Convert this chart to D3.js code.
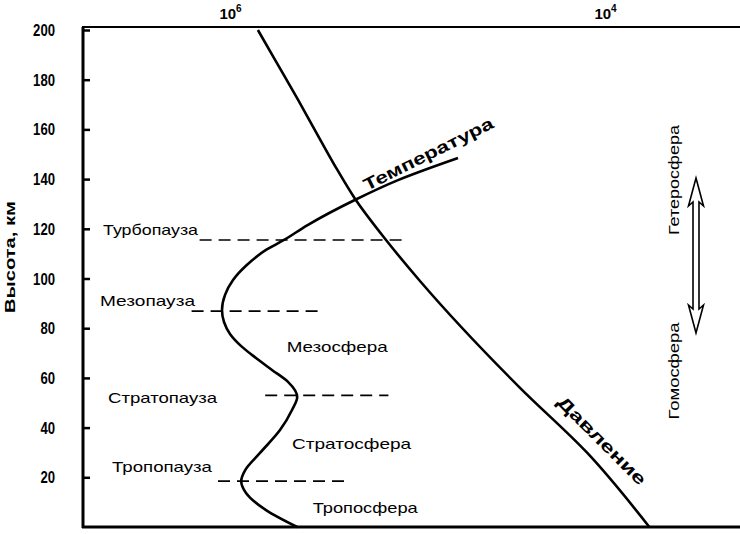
<!DOCTYPE html>
<html><head><meta charset="utf-8">
<script src="https://cdn.jsdelivr.net/npm/d3@7"></script>
<style>body{margin:0;background:#fff}svg{display:block}text{font-family:Arial,"Liberation Sans",sans-serif;fill:#000}</style>
</head><body><svg id="c" width="740" height="534"></svg>
<script>
// ---- data ----
const altTicks = [20,40,60,80,100,120,140,160,180,200];
const topTicks = [1e6, 1e4];
const topTickBase = ["10", "10"];
const topTickExp = ["6", "4"];
// temperature profile (altitude km, temperature K)
const tempAlt = [0,6.8,13.7,18.5,22.9,29.8,39,47.1,52.3,58.4,63.2,68,72.8,77.7,82.5,87.3,93.4,99.4,105.4,111.5,115.5,121.5,131.6,139.6,148.5];
const tempK   = [284,245,220,214,219,237.5,262.5,277.5,284,272.5,252.5,232.5,214,200,192.5,190,193.8,203.8,221,245,267.5,297,356,410,485];
// pressure profile (altitude km, pressure on top log axis)
const presAlt = [0,30,56,99,116,132,144,156,172,188,200];
const presVal = [5.8e3,1.25e4,2.84e4,9.7e4,1.49e5,2.15e5,2.69e5,3.31e5,4.34e5,5.75e5,7.1e5];
// pause levels (name, altitude, temperature extent of dashed line)
const pauseNames = ["Турбопауза","Мезопауза","Стратопауза","Тропопауза"];
const pauseAlt   = [115.5, 86.9, 53, 18.5];
const pauseFrom  = [162, 152, 244, 185];
const pauseTo    = [419, 310, 398, 343];
const layerNames = ["Мезосфера","Стратосфера","Тропосфера"];
const layerAlt   = [72.4, 33.4, 7.6];
const layerTemp  = [334, 352, 369];

// ---- drawing ----
const svg = d3.select("#c");
const y = d3.scaleLinear().domain([0,200]).range([527,30]);
const xT = d3.scaleLinear().domain([190,290]).range([222,302]);
const xP = d3.scaleLog().domain([1e6,1e4]).range([230,605]);

// frame
svg.append("line").attr("x1",83).attr("x2",83).attr("y1",27).attr("y2",528).attr("stroke","#000").attr("stroke-width",3);
svg.append("line").attr("x1",82).attr("x2",740).attr("y1",527).attr("y2",527).attr("stroke","#000").attr("stroke-width",3);
svg.append("line").attr("x1",82).attr("x2",740).attr("y1",27).attr("y2",27).attr("stroke","#000").attr("stroke-width",2);

// left axis
const yAxis = d3.axisRight(y).tickValues(altTicks).tickSize(7).tickFormat("");
const gy = svg.append("g").attr("transform","translate(83,0)").call(yAxis);
gy.select(".domain").remove();
gy.selectAll("line").attr("stroke","#000").attr("stroke-width",2.5);
svg.selectAll(".ylab").data(altTicks).join("text").attr("class","ylab")
  .attr("x",55).attr("y",d=>y(d)+6).attr("text-anchor","end")
  .attr("font-size",16).attr("font-weight","bold")
  .attr("textLength",d=>String(d).length*7.3).attr("lengthAdjust","spacingAndGlyphs").text(d=>d);
svg.append("text").attr("transform","translate(15,257) rotate(-90)")
  .attr("text-anchor","middle").attr("font-size",14).attr("font-weight","bold")
  .attr("textLength",112).attr("lengthAdjust","spacingAndGlyphs").text("Высота, км");

// top axis
const xAxis = d3.axisTop(xP).tickValues(topTicks).tickSize(0).tickFormat("");
const gx = svg.append("g").attr("transform","translate(0,27)").call(xAxis);
gx.select(".domain").remove();
gx.selectAll(".tick").each(function(d,i){
  const t = d3.select(this).append("text").attr("y",-8).attr("text-anchor","middle")
    .attr("font-size",15).attr("font-weight","bold").attr("fill","#000")
    .style("font-family","Arial, 'Liberation Sans', sans-serif");
  t.append("tspan").text(topTickBase[i]);
  t.append("tspan").attr("font-size",10).attr("dy",-7).text(topTickExp[i]);
});

// pause dashed lines
pauseNames.forEach((n,i)=>{
  svg.append("line").attr("x1",xT(pauseFrom[i])).attr("x2",xT(pauseTo[i]))
    .attr("y1",y(pauseAlt[i])).attr("y2",y(pauseAlt[i]))
    .attr("stroke","#000").attr("stroke-width",1.7).attr("stroke-dasharray","12,7");
});
const pauseLabelX = [103,100,108,112];
const pauseLabelDy = [-5,-5,8,-9];
const pauseLabelW = [95,95,109,100];
pauseNames.forEach((n,i)=>{
  svg.append("text").attr("x",pauseLabelX[i]).attr("y",y(pauseAlt[i])+pauseLabelDy[i])
    .attr("font-size",15).attr("textLength",pauseLabelW[i]).attr("lengthAdjust","spacingAndGlyphs").text(n);
});
const layerW = [101,119,105];
layerNames.forEach((n,i)=>{
  svg.append("text").attr("x",xT(layerTemp[i])).attr("y",y(layerAlt[i])+5)
    .attr("text-anchor","middle").attr("font-size",15)
    .attr("textLength",layerW[i]).attr("lengthAdjust","spacingAndGlyphs").text(n);
});

// curves
const tempPts = tempAlt.map((a,i)=>[xT(tempK[i]), y(a)]).sort((a,b)=>a[1]-b[1]);
const presPts = presAlt.map((a,i)=>[xP(presVal[i]), y(a)]).sort((a,b)=>a[1]-b[1]);
const line = d3.line().curve(d3.curveMonotoneY);
svg.append("path").attr("d",line(tempPts)).attr("fill","none").attr("stroke","#000").attr("stroke-width",2.6);
svg.append("path").attr("d",line(presPts)).attr("fill","none").attr("stroke","#000").attr("stroke-width",2.6);

// curve labels
svg.append("text").attr("transform","translate(367,191) rotate(-26.5)")
  .attr("font-size",17).attr("font-weight","bold")
  .attr("textLength",143).attr("lengthAdjust","spacingAndGlyphs").text("Температура");
svg.append("text").attr("transform","translate(556,403) rotate(45)")
  .attr("font-size",17).attr("font-weight","bold")
  .attr("textLength",118).attr("lengthAdjust","spacingAndGlyphs").text("Давление");

// sphere labels
svg.append("text").attr("transform","translate(679,180) rotate(-90)")
  .attr("text-anchor","middle").attr("font-size",15)
  .attr("textLength",110).attr("lengthAdjust","spacingAndGlyphs").text("Гетеросфера");
svg.append("text").attr("transform","translate(679,371) rotate(-90)")
  .attr("text-anchor","middle").attr("font-size",15)
  .attr("textLength",97).attr("lengthAdjust","spacingAndGlyphs").text("Гомосфера");

// double arrow (hollow)
const ax = 696, aTop = 178, aBot = 333, hw = 7.5, sw = 3, hl = 28;
const arrow = d3.path();
arrow.moveTo(ax, aTop);
arrow.lineTo(ax+hw, aTop+hl); arrow.lineTo(ax+sw, aTop+hl-4);
arrow.lineTo(ax+sw, aBot-hl+4); arrow.lineTo(ax+hw, aBot-hl);
arrow.lineTo(ax, aBot);
arrow.lineTo(ax-hw, aBot-hl); arrow.lineTo(ax-sw, aBot-hl+4);
arrow.lineTo(ax-sw, aTop+hl-4); arrow.lineTo(ax-hw, aTop+hl);
arrow.closePath();
svg.append("path").attr("d",arrow.toString()).attr("fill","#fff").attr("stroke","#000").attr("stroke-width",1.6);
</script></body></html>
